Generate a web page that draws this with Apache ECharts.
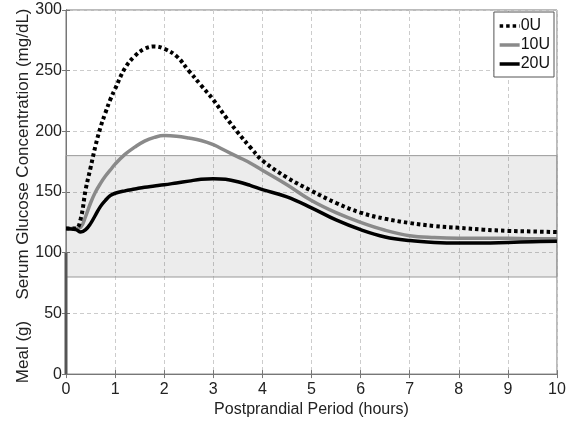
<!DOCTYPE html>
<html>
<head>
<meta charset="utf-8">
<script src="https://cdn.jsdelivr.net/npm/echarts@6/dist/echarts.min.js"></script>
<style>
html,body{margin:0;padding:0;background:#fff;}
#chart{width:570px;height:423px;}
</style>
</head>
<body>
<div id="chart"></div>
<script>
const hours = [0, 0.2, 0.3, 0.4, 0.5, 0.6, 0.7, 0.8, 0.9, 1.0, 1.2, 1.4, 1.6, 1.8, 2.0, 2.25, 2.5, 2.75, 3.0, 3.25, 3.5, 3.75, 4.0, 4.5, 5.0, 5.5, 6.0, 6.5, 7.0, 7.5, 8.0, 8.5, 9.0, 9.5, 10];
const glucose0U = [120, 120, 128, 152, 170, 188, 203, 215, 226, 235, 252, 262, 268, 270, 268, 262, 250, 238, 226, 212, 199, 187, 176, 162, 151, 141, 133, 128, 124.5, 122, 120.5, 119, 118, 117.5, 117];
const glucose10U = [120, 120, 121, 130, 141, 150, 157, 163, 168, 173, 181, 187, 192, 195, 196.5, 196, 194.5, 192.5, 189, 184, 179, 174, 168, 156, 143, 133, 125, 118.5, 114, 112.5, 112, 112, 112, 111.5, 111.5];
const glucose20U = [120, 119, 117, 119, 124, 131, 138, 143, 147, 149, 151, 152.5, 154, 155, 156, 157.5, 159, 160.5, 161, 160.5, 158.5, 155.5, 152, 146, 137, 127, 119, 113, 110, 108.5, 108, 108, 108.5, 109, 109.5];
const mealTime = [0, 0];
const mealGrams = [0, 100];
const targetBand = [80, 180];
const seriesNames = ['0U', '10U', '20U'];

const pairs = (xs, ys) => xs.map((x, i) => [x, ys[i]]);
const font = 'Liberation Sans, Arial, sans-serif';

const chart = echarts.init(document.getElementById('chart'));
const axisCommon = {
  type: 'value',
  axisLine: { show: true, lineStyle: { color: '#777', width: 1 } },
  axisTick: { show: true, inside: true, length: 4, lineStyle: { color: '#777' } },
  splitLine: { show: false }
};
chart.setOption({
  animation: false,
  backgroundColor: '#fff',
  grid: { left: 66, right: 13, top: 10, bottom: 40, show: true, borderColor: '#777', borderWidth: 1, backgroundColor: 'transparent' },
  legend: {
    data: seriesNames,
    orient: 'vertical',
    right: 16,
    top: 12,
    itemWidth: 20,
    itemHeight: 10,
    itemGap: 3,
    padding: [6, 4, 5, 4],
    backgroundColor: '#fff',
    borderColor: '#555',
    borderWidth: 1,
    borderRadius: 0,
    itemStyle: { opacity: 0 },
    lineStyle: { width: 3.5 },
    textStyle: { fontFamily: font, fontSize: 16, color: '#111', padding: [0, 0, 0, -4] }
  },
  xAxis: [
    Object.assign({}, axisCommon, {
      min: 0, max: 10, interval: 1, position: 'bottom',
      axisLabel: { fontFamily: font, fontSize: 16, color: '#222', margin: 7 },
      splitLine: { show: true, lineStyle: { color: '#cccccc', type: [4, 3], width: 1 } },
      name: 'Postprandial Period (hours)', nameLocation: 'middle', nameGap: 22,
      nameTextStyle: { fontFamily: font, fontSize: 16, color: '#222' }
    }),
    Object.assign({}, axisCommon, { min: 0, max: 10, interval: 1, position: 'top', axisLabel: { show: false } })
  ],
  yAxis: [
    Object.assign({}, axisCommon, {
      min: 0, max: 300, interval: 50, position: 'left',
      axisLabel: { fontFamily: font, fontSize: 16, color: '#222', margin: 4 },
      splitLine: { show: true, lineStyle: { color: '#cccccc', type: [4, 3], width: 1 } }
    }),
    Object.assign({}, axisCommon, { min: 0, max: 300, interval: 50, position: 'right', axisLabel: { show: false } })
  ],
  graphic: [
    { type: 'text', id: 'ytitle', rotation: Math.PI / 2, x: 23, y: 154,
      style: { text: 'Serum Glucose Concentration (mg/dL)', fontFamily: font, fontSize: 17, fill: '#222', align: 'center', verticalAlign: 'middle' } },
    { type: 'text', id: 'mtitle', rotation: Math.PI / 2, x: 23, y: 352,
      style: { text: 'Meal (g)', fontFamily: font, fontSize: 17, fill: '#222', align: 'center', verticalAlign: 'middle' } }
  ],
  series: [
    {
      name: 'band', type: 'line', data: [], silent: true,
      markArea: {
        silent: true,
        itemStyle: { color: 'rgba(0,0,0,0.075)', borderColor: '#999', borderWidth: 1 },
        data: [[{ yAxis: targetBand[0] }, { yAxis: targetBand[1] }]]
      }
    },
    {
      name: 'meal', type: 'line', data: pairs(mealTime, mealGrams), symbol: 'none', clip: false,
      lineStyle: { color: '#555', width: 3 }, z: 3
    },
    {
      name: seriesNames[0], type: 'line', data: pairs(hours, glucose0U), smooth: 0.4, symbol: 'none',
      itemStyle: { color: '#000' },
      lineStyle: { color: '#000', width: 4, type: [3.5, 3] }, z: 5
    },
    {
      name: seriesNames[1], type: 'line', data: pairs(hours, glucose10U), smooth: 0.4, symbol: 'none',
      itemStyle: { color: '#8a8a8a' },
      lineStyle: { color: '#8a8a8a', width: 3.5 }, z: 4
    },
    {
      name: seriesNames[2], type: 'line', data: pairs(hours, glucose20U), smooth: 0.4, symbol: 'none',
      itemStyle: { color: '#000' },
      lineStyle: { color: '#000', width: 3.5 }, z: 4
    }
  ]
});
</script>
</body>
</html>
